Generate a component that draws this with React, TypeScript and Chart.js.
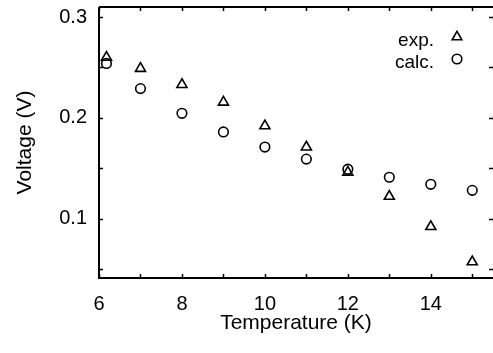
import React, { useEffect, useRef } from "react";
import { Chart, registerables } from "chart.js";

Chart.register(...registerables);

const temperatures = [6.18, 7, 8, 9, 10, 11, 12, 13, 14, 15];
const expValues = [0.26, 0.249, 0.233, 0.2155, 0.192, 0.171, 0.146, 0.122, 0.092, 0.057];
const calcValues = [0.254, 0.229, 0.2045, 0.186, 0.171, 0.159, 0.149, 0.141, 0.134, 0.128];
const xTickValues = [6, 7, 8, 9, 10, 11, 12, 13, 14, 15];
const xTickLabels = ["6", "", "8", "", "10", "", "12", "", "14", ""];
const yTickValues = [0.05, 0.1, 0.15, 0.2, 0.25, 0.3];
const yTickLabels = ["", "0.1", "", "0.2", "", "0.3"];
const legendLabels = ["exp.", "calc."];

const FONT = "'Liberation Sans', Arial, Helvetica, sans-serif";

const framePlugin = {
  id: "frame",
  beforeDatasetsDraw(chart: any) {
    const { ctx, chartArea, scales } = chart;
    const { left, right, top, bottom } = chartArea;
    ctx.save();
    ctx.strokeStyle = "#000";
    ctx.lineWidth = 2;
    ctx.beginPath();
    ctx.moveTo(left, top);
    ctx.lineTo(left, bottom);
    ctx.lineTo(right + 2, bottom);
    ctx.moveTo(left, top);
    ctx.lineTo(right + 2, top);
    ctx.stroke();
    ctx.lineWidth = 1.5;
    ctx.beginPath();
    const tl = 4;
    xTickValues.forEach((v) => {
      const x = Math.round(scales.x.getPixelForValue(v)) + 0.5;
      ctx.moveTo(x, bottom);
      ctx.lineTo(x, bottom - tl);
      ctx.moveTo(x, top);
      ctx.lineTo(x, top + tl);
    });
    yTickValues.forEach((v) => {
      const y = Math.round(scales.y.getPixelForValue(v)) + 0.5;
      ctx.moveTo(left, y);
      ctx.lineTo(left + tl, y);
      ctx.moveTo(right, y);
      ctx.lineTo(right - tl, y);
    });
    ctx.stroke();
    ctx.restore();
  },
};

const legendPlugin = {
  id: "customLegend",
  afterDraw(chart: any) {
    const { ctx } = chart;
    ctx.save();
    ctx.fillStyle = "#000";
    ctx.font = `19px ${FONT}`;
    ctx.textAlign = "right";
    ctx.textBaseline = "alphabetic";
    ctx.fillText(legendLabels[0], 434, 46);
    ctx.fillText(legendLabels[1], 434, 68);
    ctx.strokeStyle = "#000";
    ctx.lineWidth = 1.6;
    const tx = 457, ty = 37, r = 5.6;
    ctx.beginPath();
    ctx.moveTo(tx, ty - r);
    ctx.lineTo(tx + r * 0.866, ty + r * 0.5);
    ctx.lineTo(tx - r * 0.866, ty + r * 0.5);
    ctx.closePath();
    ctx.stroke();
    ctx.beginPath();
    ctx.arc(457, 59, 4.8, 0, Math.PI * 2);
    ctx.stroke();
    ctx.restore();
  },
};

export default function App() {
  const ref = useRef<HTMLCanvasElement | null>(null);
  useEffect(() => {
    document.body.style.margin = "0";
    const canvas = ref.current!;
    const chart = new Chart(canvas, {
      type: "scatter",
      data: {
        datasets: [
          {
            label: legendLabels[0],
            data: temperatures.map((t, i) => ({ x: t, y: expValues[i] })),
            pointStyle: "triangle",
            pointRadius: 5.8,
            pointBorderWidth: 1.6,
            borderColor: "#000",
            backgroundColor: "rgba(0,0,0,0)",
            clip: false,
          },
          {
            label: legendLabels[1],
            data: temperatures.map((t, i) => ({ x: t, y: calcValues[i] })),
            pointStyle: "circle",
            pointRadius: 4.8,
            pointBorderWidth: 1.6,
            borderColor: "#000",
            backgroundColor: "rgba(0,0,0,0)",
            clip: false,
          },
        ],
      },
      options: {
        animation: false,
        responsive: false,
        devicePixelRatio: 1,
        layout: { autoPadding: false, padding: { left: 0, right: 0, top: 7, bottom: 0 } },
        plugins: { legend: { display: false }, tooltip: { enabled: false } },
        scales: {
          x: {
            type: "linear",
            min: 6,
            max: 15.5,
            grid: { display: false, drawTicks: false },
            border: { display: false },
            afterBuildTicks: (scale: any) => {
              scale.ticks = xTickValues.map((v) => ({ value: v }));
            },
            afterFit: (scale: any) => {
              scale.height = 75;
              scale.paddingLeft = 0;
              scale.paddingRight = 0;
            },
            ticks: {
              autoSkip: false,
              maxRotation: 0,
              padding: 14,
              color: "#000",
              font: { family: FONT, size: 20 },
              callback: (v: any) => {
                const i = xTickValues.indexOf(Number(v));
                return i >= 0 ? xTickLabels[i] : "";
              },
            },
            title: {
              display: true,
              text: "Temperature (K)",
              color: "#000",
              font: { family: FONT, size: 21 },
              padding: { top: 0, bottom: 17 },
            },
          },
          y: {
            type: "linear",
            min: 0.041,
            max: 0.31,
            grid: { display: false, drawTicks: false },
            border: { display: false },
            afterBuildTicks: (scale: any) => {
              scale.ticks = yTickValues.map((v) => ({ value: v }));
            },
            afterFit: (scale: any) => {
              scale.width = 99;
              scale.paddingTop = 0;
              scale.paddingBottom = 0;
            },
            ticks: {
              autoSkip: false,
              padding: 12,
              color: "#000",
              font: { family: FONT, size: 20 },
              callback: (v: any) => {
                const i = yTickValues.findIndex((t) => Math.abs(t - Number(v)) < 1e-6);
                return i >= 0 ? yTickLabels[i] : "";
              },
            },
            title: {
              display: true,
              text: "Voltage (V)",
              color: "#000",
              font: { family: FONT, size: 21 },
              padding: { top: 13, bottom: 0 },
            },
          },
        },
      },
      plugins: [framePlugin, legendPlugin],
    });
    return () => chart.destroy();
  }, []);
  return (
    <div style={{ width: 493, height: 353, position: "relative" }}>
      <canvas ref={ref} width={493} height={353} style={{ display: "block" }} />
    </div>
  );
}
